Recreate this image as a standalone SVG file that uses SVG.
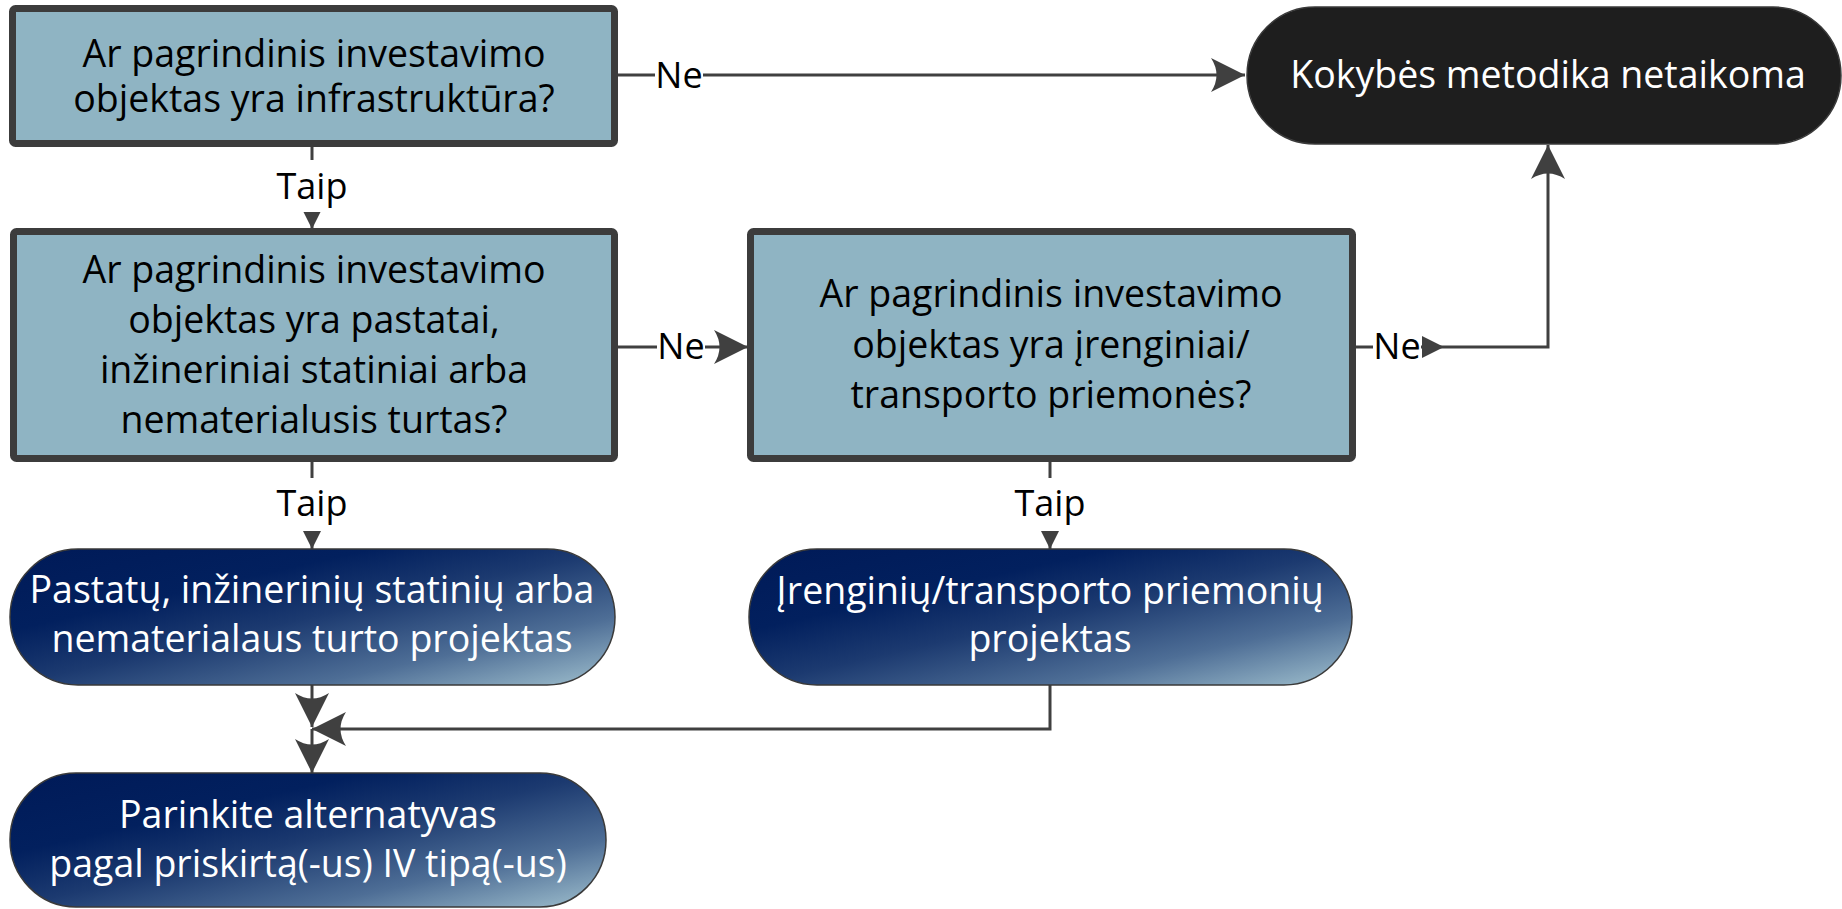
<svg xmlns="http://www.w3.org/2000/svg" width="1842" height="909" viewBox="0 0 1842 909">
<style>
.box{fill:#8fb4c3;stroke:#3c3c3c;stroke-width:7}
.pill{stroke:#3a3a3a;stroke-width:1.5}
.t{font-family:"Open Sans","Liberation Sans",sans-serif;font-size:36px;text-anchor:middle}
.n{font-size:37.5px}
.dk{fill:#000}
.wt{fill:#fff}
.ln{fill:none;stroke:#404040;stroke-width:3}
.lb{fill:#fff}
.ah{fill:#404040}
</style>
<defs>
<linearGradient id="g" x1="0" y1="0" x2="1" y2="1">
<stop offset="0" stop-color="#001a58"/>
<stop offset="0.3" stop-color="#02205e"/>
<stop offset="0.5" stop-color="#1c3a70"/>
<stop offset="0.75" stop-color="#4e6e96"/>
<stop offset="1" stop-color="#a0c0ce"/>
</linearGradient>
<marker id="big" markerUnits="userSpaceOnUse" markerWidth="34" markerHeight="34" refX="34" refY="17" orient="auto" overflow="visible">
<path class="ah" d="M0,0 L34,17 L0,34 Q11,17 0,0 Z"/>
</marker>
<marker id="small" markerUnits="userSpaceOnUse" markerWidth="18" markerHeight="18" refX="18" refY="9" orient="auto" overflow="visible">
<path class="ah" d="M0,0 L18,9 L0,18 Z"/>
</marker>
</defs>

<g id="connectors">
<path class="ln" d="M618,75 H1245" marker-end="url(#big)"/>
<rect class="lb" x="655" y="50" width="48" height="46"/>
<text class="t dk" x="679" y="88">Ne</text>

<path class="ln" d="M312,147 V229" marker-end="url(#small)"/>
<rect class="lb" x="268" y="160" width="88" height="52"/>
<text class="t dk" x="312" y="199">Taip</text>

<path class="ln" d="M618,347 H748" marker-end="url(#big)"/>
<rect class="lb" x="657" y="322" width="48" height="46"/>
<text class="t dk" x="681" y="359">Ne</text>

<path class="ln" d="M1356,347 H1548 V145" marker-end="url(#big)"/>
<rect class="lb" x="1373" y="322" width="48" height="46"/>
<text class="t dk" x="1397" y="359">Ne</text>
<path class="ah" d="M1422,336 L1444,347 L1422,358 Z"/>

<path class="ln" d="M312,462 V549" marker-end="url(#small)"/>
<rect class="lb" x="268" y="478" width="88" height="53"/>
<text class="t dk" x="312" y="516">Taip</text>

<path class="ln" d="M1050,462 V549" marker-end="url(#small)"/>
<rect class="lb" x="1006" y="478" width="88" height="53"/>
<text class="t dk" x="1050" y="516">Taip</text>

<path class="ln" d="M312,685 V727" marker-end="url(#big)"/>
<path class="ln" d="M1050,685 V729 H312" marker-end="url(#big)"/>
<path class="ln" d="M312,729 V773" marker-end="url(#big)"/>
</g>

<g id="q1">
<rect class="box" x="12.5" y="8.5" width="602" height="135" rx="3"/>
<text class="t n dk" x="314" y="67">Ar pagrindinis investavimo</text>
<text class="t n dk" x="314" y="112">objektas yra infrastruktūra?</text>
</g>

<g id="q2">
<rect class="box" x="13.5" y="231.5" width="601" height="227" rx="3"/>
<text class="t n dk" x="314" y="283">Ar pagrindinis investavimo</text>
<text class="t n dk" x="314" y="333">objektas yra pastatai,</text>
<text class="t n dk" x="314" y="383">inžineriniai statiniai arba</text>
<text class="t n dk" x="314" y="433">nematerialusis turtas?</text>
</g>

<g id="q3">
<rect class="box" x="750.5" y="231.5" width="602" height="227" rx="3"/>
<text class="t n dk" x="1051" y="307">Ar pagrindinis investavimo</text>
<text class="t n dk" x="1051" y="358">objektas yra įrenginiai/</text>
<text class="t n dk" x="1051" y="408">transporto priemonės?</text>
</g>

<g id="end">
<rect class="pill" x="1247" y="7" width="594" height="137" rx="68" ry="68.5" fill="#1e1e1e" stroke="#5a5a5a"/>
<text class="t n wt" x="1548" y="88">Kokybės metodika netaikoma</text>
</g>

<g id="p1">
<rect class="pill" x="10" y="549" width="605" height="136" rx="68" ry="68" fill="url(#g)"/>
<text class="t n wt" x="312" y="603">Pastatų, inžinerinių statinių arba</text>
<text class="t n wt" x="312" y="652">nematerialaus turto projektas</text>
</g>

<g id="p2">
<rect class="pill" x="749" y="549" width="603" height="136" rx="68" ry="68" fill="url(#g)"/>
<text class="t n wt" x="1050" y="604">Įrenginių/transporto priemonių</text>
<text class="t n wt" x="1050" y="652">projektas</text>
</g>

<g id="p3">
<rect class="pill" x="10" y="773" width="596" height="134" rx="66" ry="67" fill="url(#g)"/>
<text class="t n wt" x="308" y="828">Parinkite alternatyvas</text>
<text class="t n wt" x="308" y="877">pagal priskirtą(-us) IV tipą(-us)</text>
</g>
</svg>
